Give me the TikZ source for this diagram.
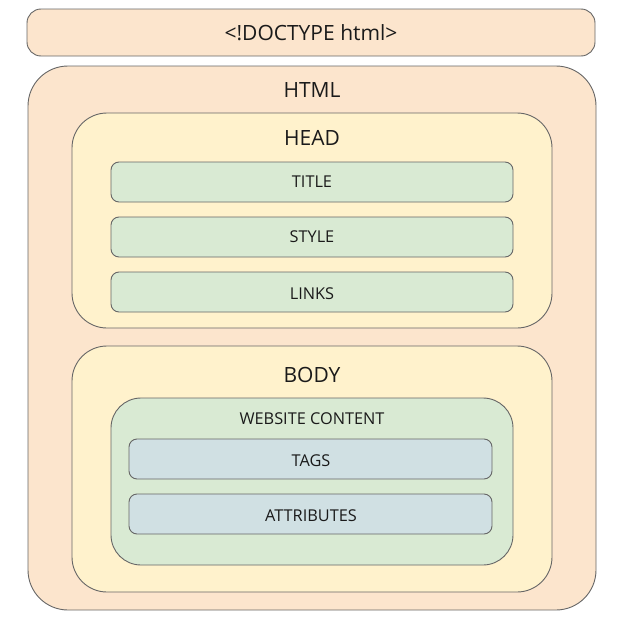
\documentclass[tikz,border=0pt]{standalone}
\usepackage{fontspec}
\setmainfont{Open Sans}
\definecolor{peach}{HTML}{FCE5CD}
\definecolor{cream}{HTML}{FFF2CC}
\definecolor{sage}{HTML}{D9EAD3}
\definecolor{slate}{HTML}{D0E0E3}
\definecolor{edge}{HTML}{666666}
\definecolor{ink}{HTML}{1A1A1A}
\begin{document}
\begin{tikzpicture}[x=1pt,y=-1pt,
  boxa/.style={draw=edge,line width=0.9pt},
  lbl/.style={text=ink,inner sep=0pt,anchor=center},
  big/.style={lbl,font=\fontsize{21}{24}\selectfont},
  small/.style={lbl,font=\fontsize{16.3}{19}\selectfont}]
\useasboundingbox (0,0) rectangle (619,621);
% DOCTYPE
\draw[boxa,fill=peach,rounded corners=14] (27,9) rectangle (595,56);
\node[big] (doctype) at (311,33) {<!DOCTYPE html>};
% HTML
\draw[boxa,fill=peach,rounded corners=40] (28,66) rectangle (596,610);
\node[big] (html) at (312,90) {HTML};
% HEAD
\draw[boxa,fill=cream,rounded corners=35] (72,113) rectangle (552,328);
\node[big] (head) at (312,138) {HEAD};
\draw[boxa,fill=sage,rounded corners=8] (111,162) rectangle (513,202);
\node[small] (title) at (312,182) {TITLE};
\draw[boxa,fill=sage,rounded corners=8] (111,217) rectangle (513,257);
\node[small] (style) at (312,237) {STYLE};
\draw[boxa,fill=sage,rounded corners=8] (111,272) rectangle (513,312);
\node[small] (links) at (312,294) {LINKS};
% BODY
\draw[boxa,fill=cream,rounded corners=35] (72,346) rectangle (552,592);
\node[big] (body) at (312,375) {BODY};
\draw[boxa,fill=sage,rounded corners=30] (111,398) rectangle (513,565);
\node[small] (content) at (312,419) {WEBSITE CONTENT};
\draw[boxa,fill=slate,rounded corners=8] (129,439) rectangle (492,479);
\node[small] (tags) at (311,461) {TAGS};
\draw[boxa,fill=slate,rounded corners=8] (129,494) rectangle (492,534);
\node[small] (attrs) at (311,516) {ATTRIBUTES};
\end{tikzpicture}
\end{document}
